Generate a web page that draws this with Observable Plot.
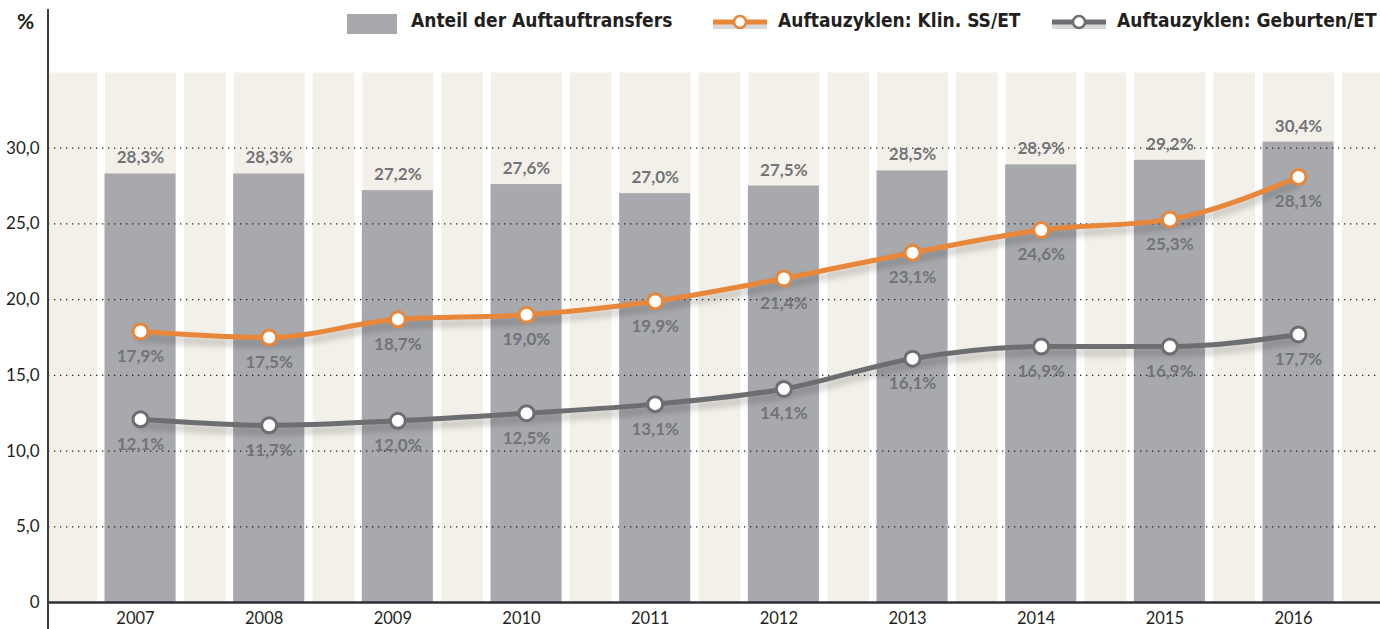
<!DOCTYPE html>
<html>
<head>
<meta charset="utf-8">
<script src="https://cdn.jsdelivr.net/npm/d3@7"></script>
<script src="https://cdn.jsdelivr.net/npm/@observablehq/plot@0.6"></script>
<style>
  html, body { margin: 0; padding: 0; background: #fff; }
  #wrap { position: relative; width: 1380px; height: 629px; overflow: hidden; font-family: Lato, "Open Sans", sans-serif; }
  #chart svg { display: block; }
  .yline { position: absolute; left: 47px; top: 9px; width: 1.5px; height: 620px; background: #3a3f44; }
  .pct { position: absolute; left: 17px; top: 8px; font: bold 21px Lato, sans-serif; color: #231f20; }
  .leg { position: absolute; top: 9px; font-family: "Liberation Sans Narrow", "DejaVu Sans Condensed", sans-serif; font-weight: bold; font-size: 19px; color: #231f20; white-space: nowrap; }
  .box { position: absolute; left: 347px; top: 14px; width: 50px; height: 20px; background: #a7a9ac; }
  .sym { position: absolute; top: 10px; }
</style>
</head>
<body>
<div id="wrap">
  <div id="chart"></div>
  <div class="yline"></div>
  <div class="pct">%</div>
  <div class="box"></div>
  <div class="leg" style="left:411px">Anteil der Auftauftransfers</div>
  <svg class="sym" style="left:711px" width="60" height="26">
    <line x1="2" y1="16" x2="56" y2="16" stroke="#000" stroke-opacity="0.15" stroke-width="6"/>
    <line x1="2" y1="12" x2="56" y2="12" stroke="#e8873a" stroke-width="5"/>
    <circle cx="29" cy="12" r="6" fill="#fff" stroke="#e8873a" stroke-width="2.5"/>
  </svg>
  <div class="leg" style="left:778px">Auftauzyklen: Klin. SS/ET</div>
  <svg class="sym" style="left:1050px" width="60" height="26">
    <line x1="2" y1="16" x2="56" y2="16" stroke="#000" stroke-opacity="0.15" stroke-width="6"/>
    <line x1="2" y1="12" x2="56" y2="12" stroke="#6d6e71" stroke-width="5"/>
    <circle cx="29" cy="12" r="6" fill="#fff" stroke="#6d6e71" stroke-width="2.5"/>
  </svg>
  <div class="leg" style="left:1117px">Auftauzyklen: Geburten/ET</div>
</div>
<script>
// ---- data ----
const years = [2007, 2008, 2009, 2010, 2011, 2012, 2013, 2014, 2015, 2016];
const anteilTransfers = [28.3, 28.3, 27.2, 27.6, 27.0, 27.5, 28.5, 28.9, 29.2, 30.4];
const klinSS = [17.9, 17.5, 18.7, 19.0, 19.9, 21.4, 23.1, 24.6, 25.3, 28.1];
const geburten = [12.1, 11.7, 12.0, 12.5, 13.1, 14.1, 16.1, 16.9, 16.9, 17.7];
const yTicks = [0, 5, 10, 15, 20, 25, 30];

const data = years.map((year, i) => ({
  year, anteil: anteilTransfers[i], klin: klinSS[i], geb: geburten[i]
}));

const pct = v => v.toFixed(1).replace(".", ",") + "%";
const yFmt = v => v === 0 ? "0" : v.toFixed(1).replace(".", ",");

const ORANGE = "#e8873a", DARK = "#6d6e71", BAR = "#a7a9ac", BEIGE = "#f3f0e9", LABEL = "#737477";
const half = 0.276;   // half bar width (in years)
const gap = 0.307;    // position of white separators
const xDomain = [2006.285, 2016.637];

const chart = Plot.plot({
  width: 1380, height: 629,
  marginLeft: 48, marginRight: 0, marginTop: 72, marginBottom: 27,
  style: { fontFamily: "Lato, 'Open Sans', sans-serif", background: "transparent" },
  x: { domain: xDomain, axis: null },
  y: { domain: [0, 35], axis: null },
  marks: [
    Plot.frame({ fill: BEIGE, stroke: null }),
    Plot.ruleX(years.flatMap(y => [y - gap, y + gap]), { stroke: "white", strokeWidth: 8 }),
    Plot.rectY(data, { x1: d => d.year - half, x2: d => d.year + half, y: "anteil", fill: BAR }),
    Plot.ruleY(yTicks.filter(t => t > 0), { stroke: "#222", strokeWidth: 1.3, strokeDasharray: "1.3,4.7" }),
    Plot.ruleY([0], { stroke: "#2b3137", strokeWidth: 2.5 }),
    Plot.axisY(yTicks, { tickSize: 0, tickPadding: 9, tickFormat: yFmt, fontSize: 17, fill: "#231f20", label: null }),
    Plot.axisX(years, { tickSize: 0, tickPadding: 10, tickFormat: d => String(d), fontSize: 16.5, fill: "#231f20", dx: -5, label: null }),
    Plot.text(data, { x: "year", y: "anteil", text: d => pct(d.anteil), dy: -16, fill: LABEL, fontWeight: "bold", fontSize: 17 }),
    // shadows
    Plot.line(data, { x: "year", y: "klin", dy: 6, stroke: "#000", strokeOpacity: 0.18, strokeWidth: 7, curve: "monotone-x" }),
    Plot.line(data, { x: "year", y: "klin", stroke: ORANGE, strokeWidth: 5, curve: "monotone-x" }),
    Plot.line(data, { x: "year", y: "geb", dy: 6, stroke: "#000", strokeOpacity: 0.18, strokeWidth: 7, curve: "monotone-x" }),
    Plot.line(data, { x: "year", y: "geb", stroke: DARK, strokeWidth: 5, curve: "monotone-x" }),
    Plot.dot(data, { x: "year", y: "klin", r: 7.5, fill: "white", stroke: ORANGE, strokeWidth: 3 }),
    Plot.dot(data, { x: "year", y: "geb", r: 7.5, fill: "white", stroke: DARK, strokeWidth: 3 }),
    Plot.text(data, { x: "year", y: "klin", text: d => pct(d.klin), dy: 25, fill: LABEL, fontWeight: "bold", fontSize: 17 }),
    Plot.text(data, { x: "year", y: "geb", text: d => pct(d.geb), dy: 25, fill: LABEL, fontWeight: "bold", fontSize: 17 })
  ]
});

// blur the shadow lines
const svg = d3.select(chart);
const defs = svg.insert("defs", ":first-child");
defs.append("filter").attr("id", "shadowBlur").attr("x", "-5%").attr("y", "-50%").attr("width", "110%").attr("height", "200%")
  .append("feGaussianBlur").attr("stdDeviation", 3);
const lines = chart.querySelectorAll('g[aria-label="line"]');
if (lines.length >= 4) {
  lines[0].setAttribute("filter", "url(#shadowBlur)");
  lines[2].setAttribute("filter", "url(#shadowBlur)");
}
document.getElementById("chart").appendChild(chart);
</script>
</body>
</html>
